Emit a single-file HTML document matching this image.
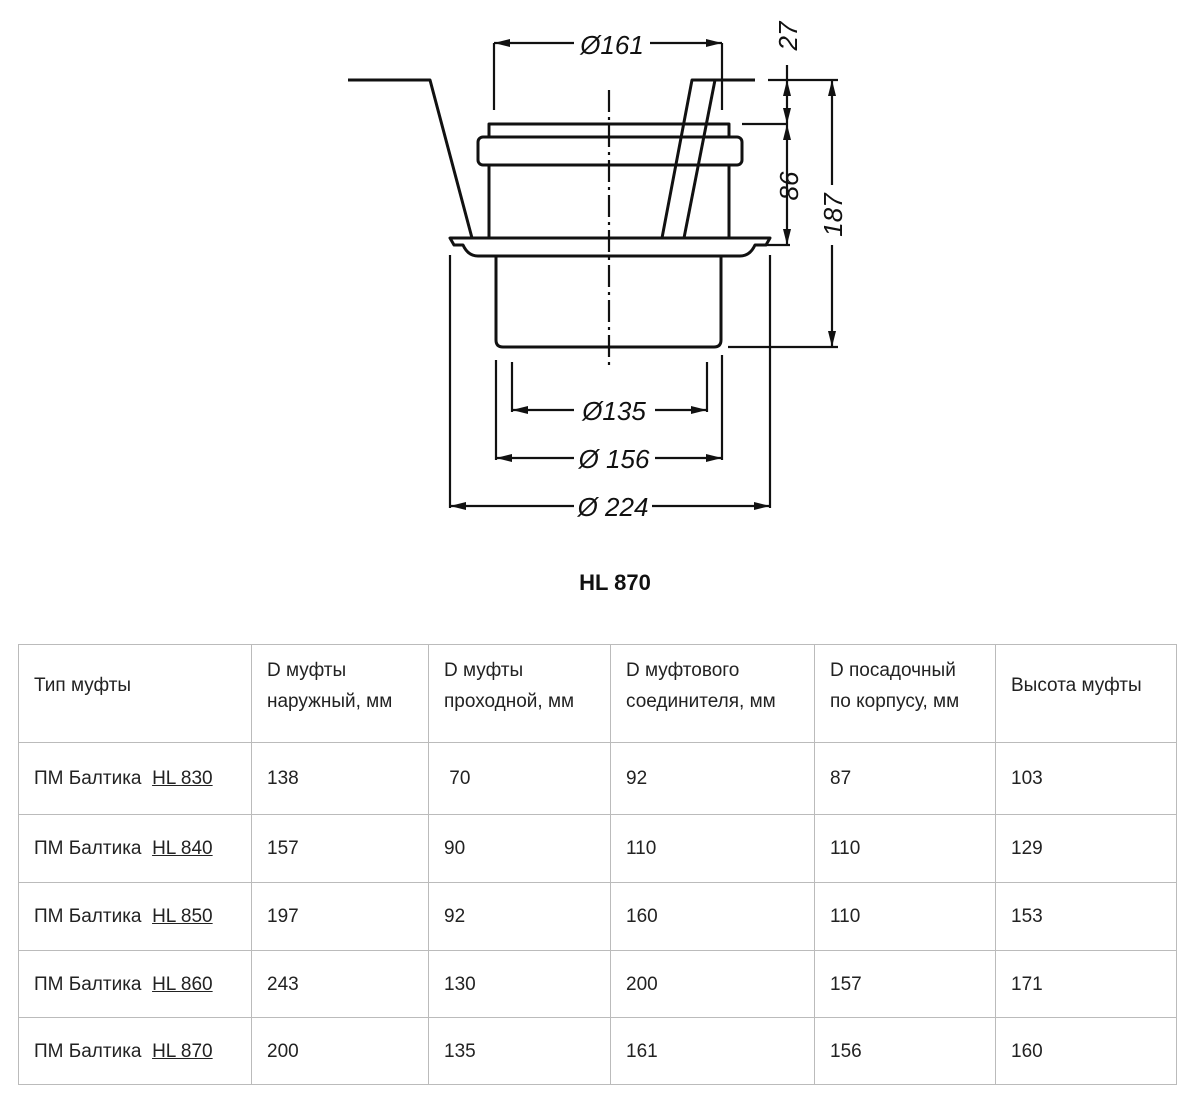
<!DOCTYPE html>
<html><head><meta charset="utf-8"><style>
html,body{margin:0;padding:0;background:#fff;width:1200px;height:1113px;overflow:hidden}
svg{position:absolute;left:0;top:0}
table{position:absolute;left:18px;top:644px;border-collapse:collapse;font-family:"Liberation Sans Narrow","Liberation Sans",sans-serif;font-size:19px;color:#222}
td{border:1.5px solid #bbb;padding:0 0 0 15px;vertical-align:middle;line-height:31px;box-sizing:border-box}
tr.h td{padding-bottom:16px}
u{text-decoration:underline}
</style></head><body>
<svg width="1200" height="640" viewBox="0 0 1200 640">
<g fill="none" stroke="#111" stroke-width="3" stroke-linejoin="round">
<polyline points="348,80 430,80 472,238"/>
<polyline points="755,80 692,80 662,238"/>
<line x1="715" y1="80" x2="684" y2="238"/>
<rect x="489" y="124" width="240" height="13"/>
<rect x="478" y="137" width="264" height="28" rx="5"/>
<line x1="489" y1="165" x2="489" y2="238"/>
<line x1="729" y1="165" x2="729" y2="238"/>
<path d="M450,238 L770,238 L766,245 L755,245 Q750,256 740,256 L478,256 Q468,256 463,245 L454,245 Z"/>
<path d="M496,256 L496,340 Q496,347 503,347 L714,347 Q721,347 721,340 L721,256"/>
</g>
<g fill="none" stroke="#111" stroke-width="2.2">
<line x1="609" y1="90" x2="609" y2="365" stroke-dasharray="22,5,3,5"/>
<line x1="494" y1="43" x2="574" y2="43"/><line x1="650" y1="43" x2="722" y2="43"/>
<line x1="494" y1="43" x2="494" y2="110"/><line x1="722" y1="43" x2="722" y2="110"/>
<line x1="768" y1="80" x2="838" y2="80"/>
<line x1="742" y1="124" x2="787" y2="124"/>
<line x1="765" y1="245" x2="790" y2="245"/>
<line x1="728" y1="347" x2="838" y2="347"/>
<line x1="787" y1="65" x2="787" y2="245"/>
<line x1="832" y1="80" x2="832" y2="185"/><line x1="832" y1="245" x2="832" y2="347"/>
<line x1="512" y1="362" x2="512" y2="412"/><line x1="707" y1="362" x2="707" y2="412"/>
<line x1="512" y1="410" x2="574" y2="410"/><line x1="655" y1="410" x2="707" y2="410"/>
<line x1="496" y1="360" x2="496" y2="460"/><line x1="722" y1="355" x2="722" y2="460"/>
<line x1="496" y1="458" x2="574" y2="458"/><line x1="655" y1="458" x2="722" y2="458"/>
<line x1="450" y1="255" x2="450" y2="508"/><line x1="770" y1="255" x2="770" y2="508"/>
<line x1="450" y1="506" x2="574" y2="506"/><line x1="652" y1="506" x2="770" y2="506"/>
</g>
<g fill="#111">
<polygon points="494,43 510,39 510,47"/><polygon points="722,43 706,39 706,47"/>
<polygon points="512,410 528,406 528,414"/><polygon points="707,410 691,406 691,414"/>
<polygon points="496,458 512,454 512,462"/><polygon points="722,458 706,454 706,462"/>
<polygon points="450,506 466,502 466,510"/><polygon points="770,506 754,502 754,510"/>
<polygon points="832,80 828,96 836,96"/><polygon points="832,347 828,331 836,331"/>
<polygon points="787,124 783,108 791,108"/><polygon points="787,124 783,140 791,140"/>
<polygon points="787,245 783,229 791,229"/><polygon points="787,80 783,96 791,96"/>
</g>
<g font-family="Liberation Sans, sans-serif" font-style="italic" font-size="26" fill="#111" text-anchor="middle">
<text x="612" y="54">Ø161</text>
<text x="614" y="420">Ø135</text>
<text x="614" y="468">Ø 156</text>
<text x="613" y="516">Ø 224</text>
<text transform="translate(797,36) rotate(-90)">27</text>
<text transform="translate(798,186) rotate(-90)">86</text>
<text transform="translate(842,215) rotate(-90)">187</text>
</g>
<text x="615" y="590" font-family="Liberation Sans, sans-serif" font-weight="bold" font-size="22" fill="#111" text-anchor="middle">HL 870</text>
</svg>
<table>
<colgroup><col style="width:233px"><col style="width:177px"><col style="width:182px"><col style="width:204px"><col style="width:181px"><col style="width:181px"></colgroup>
<tr class="h" style="height:98px"><td>Тип муфты</td><td>D муфты<br>наружный, мм</td><td>D муфты<br>проходной, мм</td><td>D муфтового<br>соединителя, мм</td><td>D посадочный<br>по корпусу, мм</td><td>Высота муфты</td></tr>
<tr style="height:72px"><td>ПМ Балтика&nbsp; <u>HL 830</u></td><td>138</td><td>&nbsp;70</td><td>92</td><td>87</td><td>103</td></tr>
<tr style="height:68px"><td>ПМ Балтика&nbsp; <u>HL 840</u></td><td>157</td><td>90</td><td>110</td><td>110</td><td>129</td></tr>
<tr style="height:68px"><td>ПМ Балтика&nbsp; <u>HL 850</u></td><td>197</td><td>92</td><td>160</td><td>110</td><td>153</td></tr>
<tr style="height:67px"><td>ПМ Балтика&nbsp; <u>HL 860</u></td><td>243</td><td>130</td><td>200</td><td>157</td><td>171</td></tr>
<tr style="height:67px"><td>ПМ Балтика&nbsp; <u>HL 870</u></td><td>200</td><td>135</td><td>161</td><td>156</td><td>160</td></tr>
</table>
</body></html>
